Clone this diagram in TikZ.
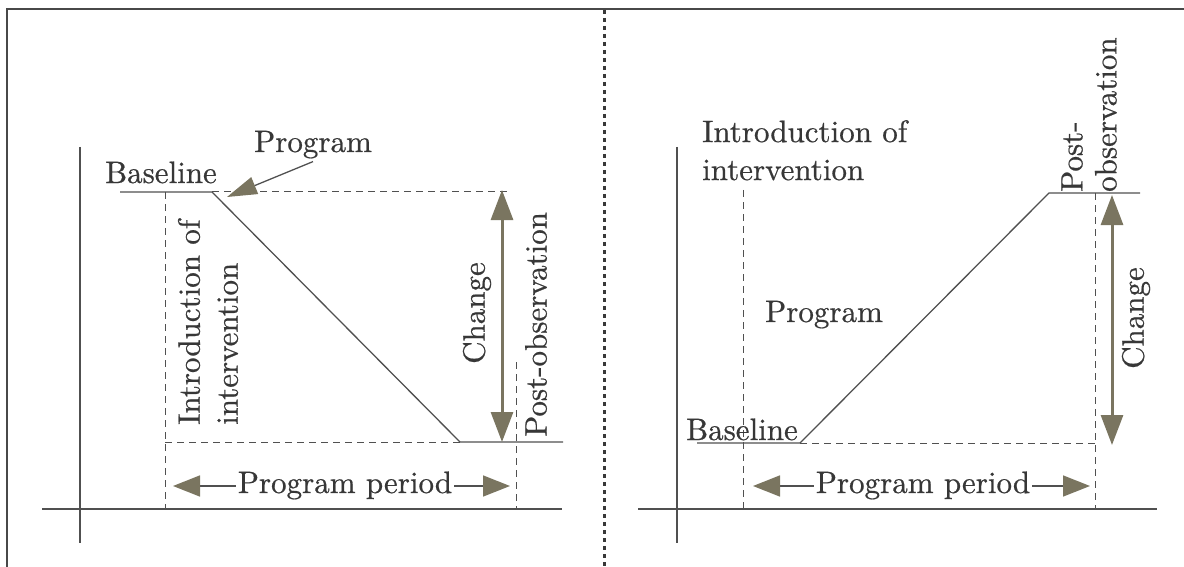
\documentclass[tikz,border=0pt]{standalone}
\usepackage{fontspec}
\newfontfamily\lmten{lmroman10-regular.otf}[FakeBold=0.6]
\usetikzlibrary{arrows.meta}
\definecolor{txt}{RGB}{55,55,55}
\definecolor{ln}{RGB}{80,80,80}
\definecolor{arr}{RGB}{122,117,96}
\begin{document}
\begin{tikzpicture}[x=1pt,y=-1pt,
  lbl/.style={font=\lmten\fontsize{31}{38}\selectfont, text=txt, inner sep=0pt},
  frameln/.style={draw=ln!90!black, line width=1.8pt},
  divider/.style={draw=ln!70!black, line width=3pt, dash pattern=on 4pt off 4pt},
  axisln/.style={draw=ln, line width=1.4pt},
  curveln/.style={draw=ln, line width=1.3pt},
  dashln/.style={draw=ln, line width=1pt, dash pattern=on 7pt off 5pt},
  chgarrow/.style={draw=arr, line width=3pt,
     {Triangle[length=30pt,width=22pt,color=arr]}-{Triangle[length=30pt,width=22pt,color=arr]}},
  pparrow/.style={draw=ln, line width=1.6pt, -{Triangle[length=27pt,width=21pt,color=arr]}},
  ptrarrow/.style={draw=ln, line width=1.3pt, -{Triangle[length=30pt,width=18pt,color=arr]}}
]
\useasboundingbox (0,0) rectangle (1184,567);
% frame and divider
\coordinate (fBL) at (7,567); \coordinate (fTL) at (7,9); \coordinate (fTR) at (1184,9);
\draw[frameln] (fBL) -- (fTL) -- (fTR);
\coordinate (dT) at (604,10); \coordinate (dB) at (604,567);
\draw[divider] (dT) -- (dB);

% ================= left panel =================
\coordinate (LyT) at (80,147); \coordinate (LyB) at (80,543);
\coordinate (LxL) at (42,509); \coordinate (LxR) at (562,509);
\draw[axisln] (LyT) -- (LyB);
\draw[axisln] (LxL) -- (LxR);
\coordinate (L1) at (120,192); \coordinate (L2) at (212,192);
\coordinate (L3) at (460,442); \coordinate (L4) at (563,442);
\draw[curveln] (L1) -- (L2) -- (L3) -- (L4);
\coordinate (LdTR) at (510,192);
\coordinate (LdvT) at (165,192); \coordinate (LdvB) at (165,509);
\coordinate (LdbL) at (165,442);
\coordinate (LdrT) at (516,362); \coordinate (LdrB) at (516,509);
\draw[dashln] (L2) -- (LdTR);
\draw[dashln] (LdvT) -- (LdvB);
\draw[dashln] (LdbL) -- (L3);
\draw[dashln] (LdrT) -- (LdrB);
\coordinate (LcT) at (502,190); \coordinate (LcB) at (502,442);
\draw[chgarrow] (LcT) -- (LcB);

\node[lbl, anchor=base] (progL) at (313,152) {Program};
\node[lbl, anchor=base] (baseL) at (161,183) {Baseline};
\coordinate (progtip) at (227,197);
\draw[ptrarrow] ([yshift=-3pt]progL.south) -- (progtip);
\node[lbl, rotate=90, align=left, anchor=west] (introL) at (208,425) {Introduction of\\intervention};
\node[lbl, rotate=90] (chgL) at (477,313) {Change};
\node[lbl, rotate=90, anchor=west] (postL) at (536,437) {Post-observation};
\node[lbl, anchor=base] (ppL) at (345,493) {Program period};
\coordinate (ppLl) at (173,486); \coordinate (ppLr) at (510,486);
\draw[pparrow] ([xshift=-2pt]ppL.west |- ppLl) -- (ppLl);
\draw[pparrow] ([xshift=2pt]ppL.east |- ppLr) -- (ppLr);

% ================= right panel =================
\coordinate (RyT) at (677,147); \coordinate (RyB) at (677,543);
\coordinate (RxL) at (638,509); \coordinate (RxR) at (1157,509);
\draw[axisln] (RyT) -- (RyB);
\draw[axisln] (RxL) -- (RxR);
\coordinate (R1) at (697,443); \coordinate (R2) at (800,443);
\coordinate (R3) at (1049,193); \coordinate (R4) at (1140,193);
\draw[curveln] (R1) -- (R2) -- (R3) -- (R4);
\coordinate (RdvT) at (743,190); \coordinate (RdvB) at (743,509);
\coordinate (RdbR) at (1095,443);
\coordinate (RdrT) at (1095,193); \coordinate (RdrB) at (1095,509);
\draw[dashln] (RdvT) -- (RdvB);
\draw[dashln] (R2) -- (RdbR);
\draw[dashln] (RdrT) -- (RdrB);
\coordinate (RcT) at (1112,195); \coordinate (RcB) at (1112,445);
\draw[chgarrow] (RcT) -- (RcB);

\node[lbl, anchor=north west, align=left] (introR) at (702,120) {Introduction of\\intervention};
\node[lbl, anchor=base] (progR) at (824,322) {Program};
\node[lbl, anchor=base] (baseR) at (742,440) {Baseline};
\node[lbl, rotate=90, align=left, anchor=west] (postR) at (1089,192) {Post-\\[-4pt]observation};
\node[lbl, rotate=90] (chgR) at (1136,318) {Change};
\node[lbl, anchor=base] (ppR) at (923,493) {Program period};
\coordinate (ppRl) at (753,486); \coordinate (ppRr) at (1090,486);
\draw[pparrow] ([xshift=-2pt]ppR.west |- ppRl) -- (ppRl);
\draw[pparrow] ([xshift=2pt]ppR.east |- ppRr) -- (ppRr);
\end{tikzpicture}
\end{document}
